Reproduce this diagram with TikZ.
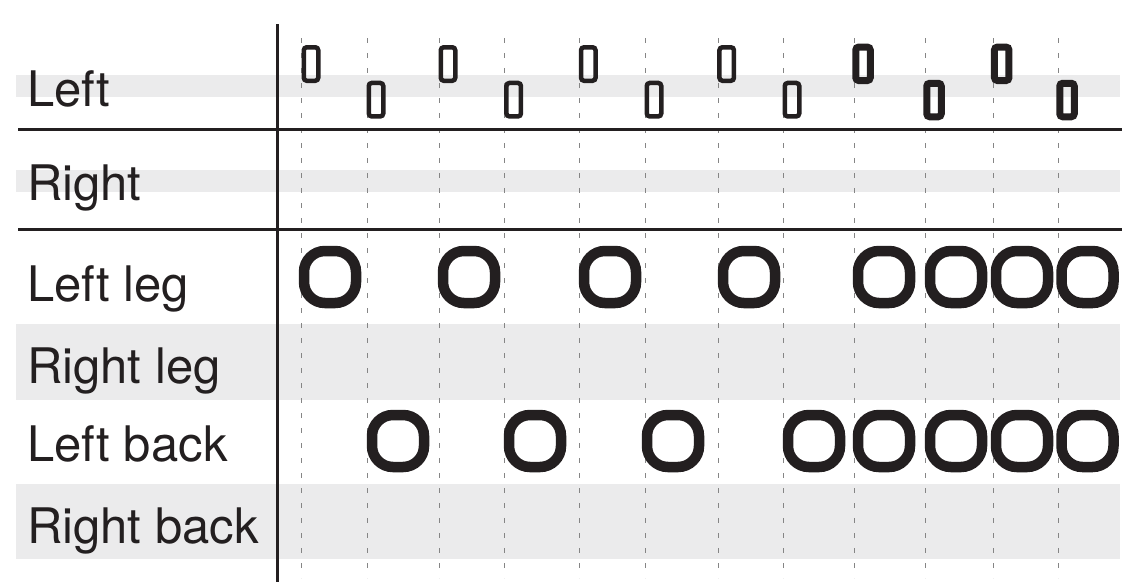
\documentclass[tikz,border=0pt]{standalone}
\usepackage{fontspec}
\setmainfont{TeX Gyre Heros}
\definecolor{ink}{HTML}{231F20}
\definecolor{band}{HTML}{EBEBEC}
\definecolor{dashc}{HTML}{858585}
\begin{document}
\begin{tikzpicture}[x=1pt,y=-1pt,
  lbl/.style={anchor=base west, inner sep=0pt, font=\fontsize{49}{49}\selectfont, text=ink},
  bandfill/.style={fill=band, draw=none},
  rule/.style={draw=ink, line width=3pt},
  gridline/.style={draw=dashc, line width=0.8pt, dash pattern=on 5pt off 10pt},
  tick/.style={shape=rectangle, draw=ink, line width=4.5pt, rounded corners=3pt, minimum width=14.5pt, minimum height=33.5pt, inner sep=0pt},
  tickb/.style={tick, line width=7pt},
  ring/.style={shape=rectangle, draw=ink, line width=10.5pt, rounded corners=21pt, minimum width=52pt, minimum height=52pt, inner sep=0pt}]
\useasboundingbox (0,0) rectangle (1122,582);
% bands
\fill[bandfill] (16,75.3) rectangle (1120,96.7);
\fill[bandfill] (16,169.7) rectangle (1120,191.7);
\fill[bandfill] (16,324) rectangle (1120,399.7);
\fill[bandfill] (16,484) rectangle (1120,559.3);
% dashed grid
\foreach \gx in {301.7,367.7,439.3,504.7,579.7,645,718.3,783.3,854.3,925.3,993.3,1058.3}
  \draw[gridline] (\gx,38) -- (\gx,578);
% rules
\draw[rule] (18,129.3) -- (1122,129.3);
\draw[rule] (18,229.3) -- (1122,229.3);
\draw[rule] (277,24) -- (277,582);
% labels
\node[lbl] (lLeft) at (27,106.7) {Left};
\node[lbl] (lRight) at (27,200) {Right};
\node[lbl] (lLeftLeg) at (27,301.7) {Left leg};
\node[lbl] (lRightLeg) at (27,383.3) {Right leg};
\node[lbl] (lLeftBack) at (27,461.7) {Left back};
\node[lbl] (lRightBack) at (27,543.3) {Right back};
% small marks (Left row)
\node[tick] (t1) at (311,64) {};
\node[tick] (t2) at (376,99.7) {};
\node[tick] (t3) at (448,64) {};
\node[tick] (t4) at (513.7,99.7) {};
\node[tick] (t5) at (588.3,64) {};
\node[tick] (t6) at (654,99.7) {};
\node[tick] (t7) at (726.7,64) {};
\node[tick] (t8) at (792,99.7) {};
\node[tickb] (t9) at (863,63.8) {};
\node[tickb] (t10) at (934,100) {};
\node[tickb] (t11) at (1001.7,63.8) {};
\node[tickb] (t12) at (1067,100) {};
% Left leg rings
\node[ring] (a1) at (330,277) {};
\node[ring] (a2) at (469,277) {};
\node[ring] (a3) at (610,277) {};
\node[ring] (a4) at (749,277) {};
\node[ring] (a5) at (884,277) {};
\node[ring] (a6) at (956,277) {};
\node[ring] (a7) at (1022,277) {};
\node[ring] (a8) at (1087.5,277) {};
% Left back rings
\node[ring] (b1) at (398,441) {};
\node[ring] (b2) at (535,441) {};
\node[ring] (b3) at (673,441) {};
\node[ring] (b4) at (814,441) {};
\node[ring] (b5) at (884,441) {};
\node[ring] (b6) at (956,441) {};
\node[ring] (b7) at (1022,441) {};
\node[ring] (b8) at (1087.5,441) {};
\end{tikzpicture}
\end{document}
